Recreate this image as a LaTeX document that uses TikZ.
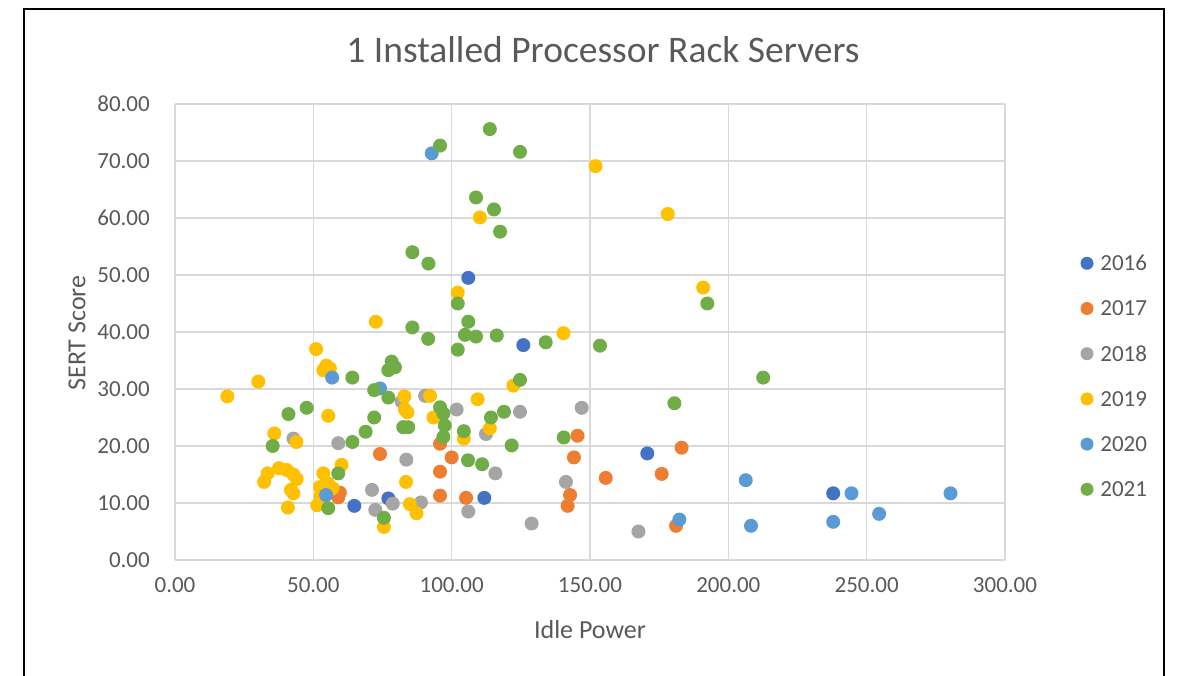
\documentclass[tikz,border=0pt]{standalone}
\usepackage{fontspec}
\setmainfont{Carlito}
\usetikzlibrary{positioning}
\definecolor{c2016}{HTML}{4472C4}
\definecolor{c2017}{HTML}{ED7D31}
\definecolor{c2018}{HTML}{A5A5A5}
\definecolor{c2019}{HTML}{FFC000}
\definecolor{c2020}{HTML}{5B9BD5}
\definecolor{c2021}{HTML}{70AD47}
\definecolor{axisgray}{HTML}{595959}
\definecolor{gridgray}{HTML}{D9D9D9}
\tikzset{ %all lengths in reference pixels
  {grid line/.style} ={draw=gridgray,line width=1.5pt},
  {base dot/.style} ={fill=#1},
  {legend dot/.style} ={circle,fill=#1,inner sep=0,minimum size=13pt},
  {tick label/.style} ={text=axisgray,inner sep=0,
                font=\fontsize{23}{27}\selectfont},
  {legend text/.style} ={tick label},
  {axis title/.style} ={text=axisgray,inner sep=0,
                font=\fontsize{26}{30}\selectfont},
  {chart title/.style} ={text=axisgray,inner sep=0,
                font=\fontsize{37.5}{42}\selectfont},
  {frame line/.style} ={draw=black,line width=2pt},
}

\begin{document}
\begin{tikzpicture}[x=1pt,y=-1pt]
\useasboundingbox (0,0) rectangle (1187,676);
\draw[frame line] (24,676) -- (24,9) -- (1164,9) -- (1164,676);
\node[chart title] (title) at (603,50) {1 Installed Processor Rack Servers};
\node[axis title,rotate=90] (ylabel) at (77,333) {SERT Score};
\node[axis title] (xlabel) at (590,630) {Idle Power};
\begin{scope}[shift={(175,560)},x=2.7667pt,y=5.7pt]
  % grid and ticks
  \foreach \gx in {0,50,...,300}{
    \draw[grid line] (\gx,0) -- (\gx,80);
    \node[tick label] (xt\gx) at ([yshift=-25pt]\gx,0) {\gx.00};
  }
  \foreach \gy in {0,10,...,80}{
    \draw[grid line] (0,\gy) -- (300,\gy);
    \node[tick label,anchor=east] (yt\gy) at ([xshift=-25pt]0,\gy) {\gy.00};
  }
  % series, later years drawn on top
  \foreach \px/\py in {106/49.5,125.9/37.7,170.7/18.7,111.8/10.9,77.1/10.8,
      64.8/9.5,237.9/11.7}
    \fill[base dot=c2016] (\px,\py) circle[radius=7pt];
  \foreach \px/\py in {95.8/20.4,74.1/18.6,100/18.0,95.8/15.5,59.6/11.8,
      59/11.0,95.8/11.3,105.2/10.9,145.5/21.8,144.2/18.0,155.7/14.4,
      142.8/11.4,141.9/9.5,183.1/19.7,175.9/15.1,181.1/6.0}
    \fill[base dot=c2017] (\px,\py) circle[radius=7pt];
  \foreach \px/\py in {90.4/28.8,101.8/26.4,42.8/21.3,59/20.5,83.6/17.6,
      81.9/27.8,71.2/12.3,72.4/8.8,78.7/9.9,88.9/10.1,106/8.5,112.4/22.1,
      115.8/15.2,124.7/26.0,147/26.7,141.3/13.7,128.9/6.4,167.5/5.0}
    \fill[base dot=c2018] (\px,\py) circle[radius=7pt];
  \foreach \px/\py in {102.2/46.9,72.6/41.8,110.2/60.1,152/69.1,178.1/60.7,
      190.9/47.8,140.4/39.8,51/37,54.7/34.1,53.6/33.3,56/33.6,30.1/31.3,
      18.9/28.7,82.9/28.7,92.2/28.8,55.4/25.3,83.1/26.4,84/25.9,93.4/25.0,
      35.9/22.2,43.9/20.7,109.4/28.2,113.8/23.1,104.4/21.3,122.3/30.6,
      60.2/16.7,53.6/15.2,33.5/15.2,37.6/16.1,40.4/15.8,42.8/15.0,44/14.2,
      32.2/13.7,41.9/12.3,42.8/11.7,40.8/9.2,51.4/9.6,83.5/13.7,84.9/9.8,
      87.3/8.2,75.5/5.8,52.4/12.8,55.4/13.4,57/12.6,52.6/11.2}
    \fill[base dot=c2019] (\px,\py) circle[radius=7pt];
  \foreach \px/\py in {92.8/71.35,56.8/32.0,74.1/30.1,54.6/11.4,182.3/7.1,
      206.3/14.0,244.5/11.7,280.3/11.7,208.2/6.0,237.9/6.7,254.5/8.1}
    \fill[base dot=c2020] (\px,\py) circle[radius=7pt];
  \foreach \px/\py in {95.8/72.7,85.8/54.0,91.6/52.0,102.2/45.0,85.8/40.8,
      91.5/38.8,113.8/75.6,124.7/71.6,108.8/63.6,115.3/61.5,117.5/57.6,
      106/41.8,104.8/39.5,108.8/39.2,116.3/39.4,192.4/45.0,102.2/36.9,
      78.3/34.8,79.5/33.8,77.1/33.3,64.1/32.0,72/29.8,77.1/28.5,47.6/26.7,
      41/25.6,72/25,95.8/26.8,97/25.7,97.5/23.6,97/21.6,82.5/23.3,84.3/23.3,
      68.9/22.5,35.3/20.0,64.1/20.7,59/15.2,55.4/9.1,75.5/7.4,134/38.2,
      153.6/37.6,124.7/31.6,114.2/25.0,118.9/26.0,104.4/22.6,105.9/17.5,
      111/16.8,121.7/20.1,140.5/21.5,180.5/27.5,212.6/32.0}
    \fill[base dot=c2021] (\px,\py) circle[radius=7pt];
\end{scope}
% legend
\foreach \yr [count=\i from 0] in {2016,2017,2018,2019,2020,2021}{
  \node[legend dot=c\yr] (dot\yr) at (1087,263.3+45.2*\i) {};
  \node[legend text,right=6.5pt of dot\yr] (leg\yr) {\yr};
}
\end{tikzpicture}
\end{document}
